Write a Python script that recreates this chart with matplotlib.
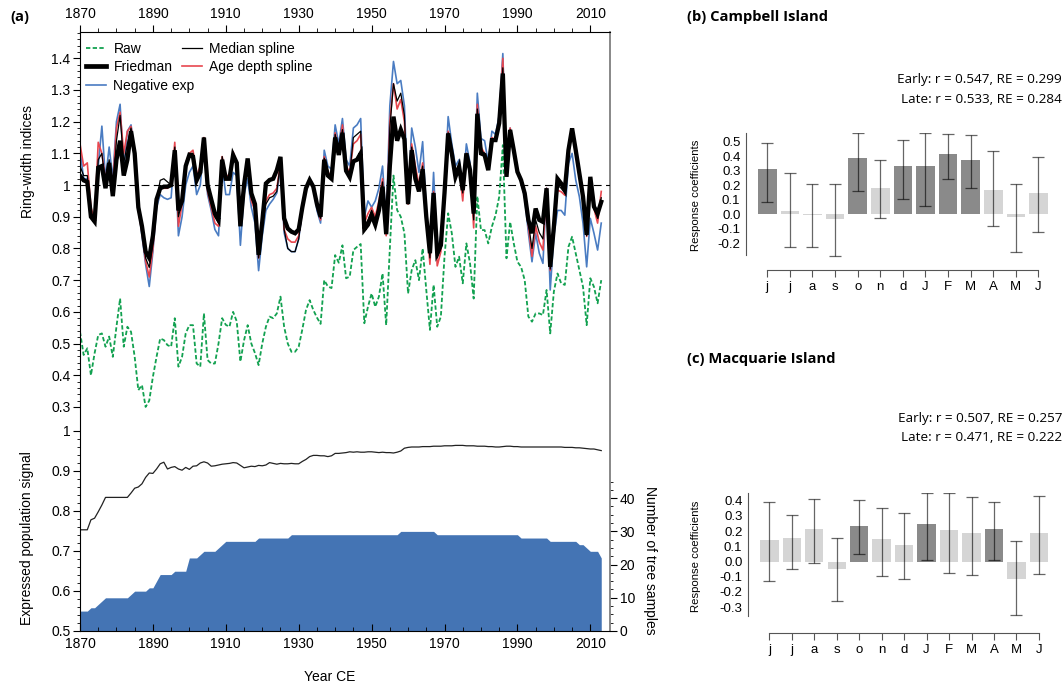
import numpy as np
import matplotlib
matplotlib.use("Agg")
import matplotlib.pyplot as plt
from matplotlib.lines import Line2D
from matplotlib.ticker import FixedLocator

plt.rcParams['font.family'] = ['Liberation Sans', 'DejaVu Sans']

# ---- panel (a) data, 1870-2013 ----
years = np.arange(1870, 2014)

friedman = [
    1.03, 1.015, 1.01, 0.90, 0.885, 1.055, 1.06, 0.99, 1.07, 0.965,
    1.08, 1.14, 1.03, 1.08, 1.17, 1.10, 0.93, 0.87, 0.79, 0.77,
    0.84, 0.955, 0.99, 0.995, 0.995, 1.0, 1.11, 0.92, 0.95, 1.06,
    1.095, 1.09, 1.015, 1.04, 1.15, 1.0, 0.955, 0.91, 0.89, 1.08,
    1.02, 1.02, 1.095, 1.07, 0.87, 1.0, 1.084, 0.974, 0.94, 0.78,
    0.884, 1.005, 1.016, 1.02, 1.047, 1.089, 0.895, 0.863, 0.853, 0.848,
    0.86, 0.93, 0.99, 1.016, 0.995, 0.94, 0.90, 1.08, 1.03, 1.02,
    1.15, 1.095, 1.165, 1.045, 1.025, 1.075, 1.08, 1.10, 0.86, 0.875,
    0.905, 0.875, 0.92, 0.995, 0.845, 1.06, 1.216, 1.14, 1.175, 1.145,
    0.94, 1.11, 1.02, 0.98, 1.05, 0.90, 0.785, 0.975, 0.785, 0.81,
    0.975, 1.163, 1.10, 1.026, 1.058, 0.984, 1.10, 1.047, 0.91, 1.225,
    1.10, 1.095, 1.047, 1.142, 1.142, 1.195, 1.352, 1.026, 1.174, 1.11,
    1.042, 1.016, 0.974, 0.89, 0.848, 0.926, 0.89, 0.884, 0.99, 0.742,
    0.868, 1.02, 1.005, 0.984, 1.11, 1.179, 1.11, 1.037, 0.963, 0.843,
    1.026, 0.932, 0.91, 0.947,
]

median_spline = [
    1.06, 1.03, 1.03, 0.91, 0.89, 1.08, 1.10, 1.0, 1.08, 0.98,
    1.14, 1.22, 1.07, 1.13, 1.18, 1.10, 0.92, 0.86, 0.77, 0.74,
    0.82, 0.95, 1.015, 1.02, 1.01, 1.0, 1.12, 0.90, 0.95, 1.07,
    1.10, 1.10, 1.02, 1.05, 1.15, 0.99, 0.95, 0.90, 0.88, 1.09,
    1.02, 1.02, 1.10, 1.07, 0.88, 1.0, 1.08, 0.96, 0.93, 0.77,
    0.87, 0.94, 0.96, 0.965, 0.98, 1.075, 0.86, 0.80, 0.79, 0.79,
    0.83, 0.92, 0.99, 1.015, 0.995, 0.935, 0.895, 1.085, 1.035, 1.025,
    1.16, 1.10, 1.175, 1.055, 1.035, 1.15, 1.16, 1.17, 0.87, 0.89,
    0.92, 0.89, 0.94, 1.01, 0.85, 1.18, 1.32, 1.265, 1.29, 1.22,
    0.94, 1.12, 1.04, 0.99, 1.06, 0.90, 0.77, 0.975, 0.77, 0.80,
    0.975, 1.165, 1.10, 1.025, 1.06, 0.975, 1.10, 1.05, 0.89, 1.24,
    1.11, 1.10, 1.05, 1.145, 1.14, 1.20, 1.37, 1.03, 1.175, 1.11,
    1.043, 1.013, 0.97, 0.88, 0.80, 0.89, 0.85, 0.83, 0.99, 0.735,
    0.865, 1.0, 0.99, 0.975, 1.105, 1.17, 1.105, 1.03, 0.958, 0.84,
    1.02, 0.93, 0.895, 0.96,
]

age_depth = [
    1.13, 1.06, 1.07, 0.93, 0.89, 1.135, 1.10, 1.02, 1.07, 1.00,
    1.18, 1.23, 1.10, 1.17, 1.185, 1.10, 0.92, 0.85, 0.76, 0.71,
    0.80, 0.94, 0.99, 0.99, 0.99, 1.0, 1.135, 0.87, 0.94, 1.07,
    1.10, 1.11, 1.03, 1.06, 1.15, 0.98, 0.93, 0.88, 0.87, 1.09,
    1.03, 1.03, 1.105, 1.07, 0.89, 1.0, 1.08, 0.95, 0.92, 0.77,
    0.87, 0.95, 0.97, 0.975, 0.99, 1.07, 0.86, 0.83, 0.82, 0.82,
    0.84, 0.92, 0.99, 1.015, 0.99, 0.93, 0.89, 1.09, 1.04, 1.03,
    1.165, 1.11, 1.19, 1.06, 1.04, 1.13, 1.14, 1.16, 0.88, 0.91,
    0.93, 0.90, 0.95, 1.02, 0.84, 1.20, 1.32, 1.24, 1.27, 1.20,
    0.94, 1.13, 1.06, 1.0, 1.07, 0.90, 0.75, 0.98, 0.745, 0.79,
    0.97, 1.17, 1.11, 1.02, 1.06, 0.95, 1.10, 1.06, 0.865, 1.255,
    1.12, 1.10, 1.05, 1.15, 1.14, 1.21, 1.40, 1.03, 1.18, 1.11,
    1.045, 1.01, 0.965, 0.87, 0.775, 0.87, 0.82, 0.795, 0.99, 0.73,
    0.86, 0.984, 0.979, 0.968, 1.10, 1.168, 1.10, 1.026, 0.953, 0.838,
    1.016, 0.926, 0.88, 0.98,
]

negative_exp = [
    1.11, 1.02, 1.02, 0.92, 0.89, 1.06, 1.186, 1.02, 1.12, 1.02,
    1.20, 1.255, 1.05, 1.17, 1.19, 1.10, 0.93, 0.84, 0.75, 0.68,
    0.79, 0.93, 0.97, 0.96, 0.955, 0.96, 1.12, 0.84, 0.90, 1.0,
    1.04, 1.06, 0.97, 1.0, 1.13, 0.97, 0.92, 0.86, 0.84, 1.06,
    0.97, 0.97, 1.04, 1.03, 0.81, 0.97, 1.02, 0.93, 0.88, 0.73,
    0.84, 0.92, 0.94, 0.955, 0.975, 1.06, 0.85, 0.80, 0.79, 0.79,
    0.83, 0.92, 0.99, 1.02, 1.0, 0.92, 0.88, 1.11, 1.06, 1.05,
    1.19, 1.13, 1.21, 1.08, 1.06, 1.18, 1.19, 1.21, 0.90, 0.95,
    0.93, 0.95, 0.99, 1.06, 0.88, 1.25, 1.39, 1.32, 1.33, 1.25,
    0.95, 1.18, 1.12, 1.04, 1.137, 0.92, 0.79, 1.04, 0.79, 0.84,
    0.98, 1.216, 1.13, 1.06, 1.08, 0.99, 1.13, 1.07, 0.93, 1.29,
    1.147, 1.14, 1.07, 1.17, 1.16, 1.22, 1.415, 1.03, 1.18, 1.11,
    1.05, 1.01, 0.96, 0.85, 0.758, 0.848, 0.785, 0.753, 0.99, 0.669,
    0.84, 0.92, 0.92, 0.905, 1.068, 1.10, 1.016, 0.963, 0.879, 0.742,
    0.895, 0.848, 0.795, 0.88,
]

raw = [
    0.537, 0.464, 0.485, 0.40, 0.469, 0.527, 0.532, 0.49, 0.522, 0.458,
    0.553, 0.642, 0.49, 0.553, 0.537, 0.458, 0.353, 0.369, 0.30, 0.32,
    0.395, 0.458, 0.516, 0.511, 0.495, 0.49, 0.58, 0.427, 0.458, 0.532,
    0.558, 0.558, 0.437, 0.427, 0.595, 0.448, 0.437, 0.437, 0.50, 0.58,
    0.559, 0.553, 0.60, 0.57, 0.443, 0.51, 0.558, 0.50, 0.47, 0.432,
    0.50, 0.553, 0.585, 0.58, 0.595, 0.648, 0.553, 0.50, 0.474, 0.474,
    0.49, 0.545, 0.606, 0.637, 0.606, 0.582, 0.562, 0.70, 0.68, 0.675,
    0.779, 0.755, 0.81, 0.706, 0.711, 0.795, 0.805, 0.814, 0.564, 0.616,
    0.658, 0.616, 0.648, 0.721, 0.558, 0.80, 1.03, 0.921, 0.90, 0.848,
    0.658, 0.732, 0.763, 0.70, 0.80, 0.669, 0.543, 0.685, 0.553, 0.585,
    0.774, 0.911, 0.848, 0.742, 0.774, 0.69, 0.816, 0.753, 0.642, 0.965,
    0.858, 0.858, 0.816, 0.869, 0.905, 0.963, 1.126, 0.769, 0.884, 0.816,
    0.758, 0.742, 0.70, 0.585, 0.569, 0.595, 0.595, 0.59, 0.669, 0.532,
    0.664, 0.721, 0.69, 0.685, 0.805, 0.837, 0.784, 0.732, 0.679, 0.558,
    0.706, 0.679, 0.627, 0.70,
]

eps = [
    0.753, 0.753, 0.753, 0.778, 0.782, 0.798, 0.815, 0.834, 0.834, 0.834,
    0.834, 0.834, 0.834, 0.834, 0.845, 0.857, 0.860, 0.868, 0.884, 0.895,
    0.894, 0.905, 0.918, 0.922, 0.905, 0.909, 0.911, 0.905, 0.902, 0.909,
    0.904, 0.912, 0.913, 0.920, 0.923, 0.920, 0.912, 0.913, 0.915, 0.917,
    0.918, 0.919, 0.921, 0.920, 0.914, 0.908, 0.910, 0.912, 0.911, 0.914,
    0.913, 0.915, 0.921, 0.919, 0.917, 0.919, 0.918, 0.918, 0.919, 0.918,
    0.918, 0.924, 0.929, 0.936, 0.939, 0.939, 0.938, 0.938, 0.936, 0.938,
    0.944, 0.944, 0.945, 0.946, 0.948, 0.947, 0.948, 0.947, 0.947, 0.948,
    0.948, 0.947, 0.946, 0.947, 0.946, 0.946, 0.945, 0.947, 0.950, 0.957,
    0.959, 0.960, 0.960, 0.960, 0.961, 0.961, 0.961, 0.962, 0.962, 0.962,
    0.963, 0.963, 0.963, 0.964, 0.964, 0.964, 0.963, 0.963, 0.963, 0.962,
    0.962, 0.962, 0.961, 0.961, 0.960, 0.960, 0.961, 0.962, 0.962, 0.961,
    0.961, 0.960, 0.960, 0.960, 0.960, 0.960, 0.960, 0.960, 0.960, 0.960,
    0.960, 0.960, 0.960, 0.959, 0.959, 0.959, 0.958, 0.958, 0.957, 0.956,
    0.955, 0.955, 0.953, 0.951,
]

samples = [
    6, 6, 6, 7, 7, 8, 9, 10, 10, 10,
    10, 10, 10, 10, 11, 12, 12, 12, 12, 13,
    13, 15, 17, 17, 17, 17, 18, 18, 18, 18,
    22, 22, 22, 23, 24, 24, 24, 24, 25, 26,
    27, 27, 27, 27, 27, 27, 27, 27, 27, 28,
    28, 28, 28, 28, 28, 28, 28, 28, 29, 29,
    29, 29, 29, 29, 29, 29, 29, 29, 29, 29,
    29, 29, 29, 29, 29, 29, 29, 29, 29, 29,
    29, 29, 29, 29, 29, 29, 29, 29, 30, 30,
    30, 30, 30, 30, 30, 30, 30, 30, 29, 29,
    29, 29, 29, 29, 29, 29, 29, 29, 29, 29,
    29, 29, 29, 29, 29, 29, 29, 29, 29, 29,
    29, 28, 28, 28, 28, 28, 28, 28, 28, 27,
    27, 27, 27, 27, 27, 27, 27, 26, 26, 25,
    24, 24, 24, 22,
]

rw_ticks = [0.3, 0.4, 0.5, 0.6, 0.7, 0.8, 0.9, 1.0, 1.1, 1.2, 1.3, 1.4]
rw_ticklabels = ['0.3', '0.4', '0.5', '0.6', '0.7', '0.8', '0.9', '1',
                 '1.1', '1.2', '1.3', '1.4']
eps_ticks = [0.5, 0.6, 0.7, 0.8, 0.9, 1.0]
eps_ticklabels = ['0.5', '0.6', '0.7', '0.8', '0.9', '1']
year_ticks = [1870, 1890, 1910, 1930, 1950, 1970, 1990, 2010]

# ---- panels (b) and (c): response coefficients ----
months = ['j', 'j', 'a', 's', 'o', 'n', 'd', 'J', 'F', 'M', 'A', 'M', 'J']

camp_coef = [0.31, 0.025, -0.005, -0.035, 0.385, 0.18, 0.335, 0.335, 0.415, 0.372, 0.165, -0.015, 0.145]
camp_lo = [0.088, -0.227, -0.225, -0.284, 0.16, -0.028, 0.105, 0.06, 0.24, 0.18, -0.08, -0.26, -0.124]
camp_hi = [0.489, 0.287, 0.206, 0.206, 0.56, 0.375, 0.512, 0.563, 0.556, 0.544, 0.433, 0.206, 0.395]
camp_sig = [True, False, False, False, True, False, True, True, True, True, False, False, False]

macq_coef = [0.143, 0.154, 0.213, -0.048, 0.235, 0.147, 0.112, 0.248, 0.207, 0.187, 0.211, -0.114, 0.187]
macq_lo = [-0.13, -0.046, -0.011, -0.259, 0.048, -0.097, -0.114, 0.009, -0.077, -0.086, 0.011, -0.354, -0.084]
macq_hi = [0.389, 0.303, 0.41, 0.154, 0.407, 0.35, 0.32, 0.45, 0.448, 0.426, 0.39, 0.134, 0.433]
macq_sig = [False, False, False, False, True, False, False, True, False, False, True, False, False]

W, H = 1064, 685


def px_rect(left, top, right, bottom):
    """Figure-fraction rect from pixel edges (origin top-left)."""
    return [left / W, (H - bottom) / H, (right - left) / W, (bottom - top) / H]


def bar_panel(fig, rect, coef, lo, hi, sig, ylim, spine_lim, yticks,
              title, stats, title_y, stats_y, ylab_y, xlim):
    ax = fig.add_axes(rect)
    x = np.arange(len(months))
    coef = np.asarray(coef)
    colors = ['#8a8a8a' if s else '#d5d5d5' for s in sig]
    ax.bar(x, coef, width=0.82, color=colors, linewidth=0, zorder=1)
    ax.errorbar(x, coef, yerr=[coef - np.asarray(lo), np.asarray(hi) - coef],
                fmt='none', ecolor=(0, 0, 0, 0.6), elinewidth=0.9,
                capsize=4.3, capthick=0.9, zorder=2)
    ax.set_xlim(*xlim)
    ax.set_ylim(*ylim)
    for s in ['top', 'right']:
        ax.spines[s].set_visible(False)
    ax.spines['left'].set_bounds(*spine_lim)
    ax.spines['bottom'].set_bounds(0, len(months) - 1)
    for s in ['left', 'bottom']:
        ax.spines[s].set_color('#555555')
        ax.spines[s].set_linewidth(0.8)
    ax.set_xticks(x)
    ax.set_xticklabels(months)
    ax.set_yticks(yticks)
    ax.set_yticklabels([f'{v:.1f}' for v in yticks])
    ax.tick_params(axis='x', direction='out', length=5, width=0.8,
                   color='#555555', labelsize=9.5, pad=3)
    ax.tick_params(axis='y', length=0, labelsize=9.5, pad=4)
    fig.text(687 / W, 1 - title_y / H, title, fontsize=10.6, fontweight='bold',
             family='Open Sans', va='center', ha='left')
    for k, line in enumerate(stats):
        fig.text(1062 / W, 1 - (stats_y + 19.5 * k) / H, line, fontsize=9.7,
                 family='Open Sans', va='center', ha='right')
    fig.text(696 / W, 1 - ylab_y / H, 'Response coefficients', fontsize=8.2,
             rotation=90, va='center', ha='center')
    return ax


fig = plt.figure(figsize=(W / 100, H / 100), dpi=100)
rect_a = px_rect(80, 32, 610, 631)
xlim_a = (1870, 2015.4)

# sample depth (right axis), drawn first so it sits at the back
ax_n = fig.add_axes(rect_a)
ax_n.fill_between(years, 0, samples, color='#4474b4', linewidth=0)
ax_n.set_xlim(*xlim_a)
ax_n.set_ylim(0, 180.4)
ax_n.set_xticks([])
ax_n.yaxis.tick_right()
ax_n.set_yticks([0, 10, 20, 30, 40])
ax_n.yaxis.set_minor_locator(FixedLocator(np.arange(0, 45.1, 2.5)))
ax_n.tick_params(axis='y', which='major', direction='out', length=5, labelsize=10, pad=2)
ax_n.tick_params(axis='y', which='minor', direction='out', length=2.5)
for s in ['left', 'top', 'bottom']:
    ax_n.spines[s].set_visible(False)
ax_n.spines['right'].set_color('#7f7f7f')
ax_n.spines['right'].set_linewidth(1.3)

# expressed population signal
ax_eps = fig.add_axes(rect_a)
ax_eps.patch.set_visible(False)
ax_eps.plot(years, eps, color='#222222', lw=0.9)
ax_eps.set_xlim(*xlim_a)
ax_eps.set_ylim(0.5, 1.9975)
ax_eps.set_yticks(eps_ticks)
ax_eps.set_yticklabels(eps_ticklabels)
ax_eps.yaxis.set_minor_locator(FixedLocator(np.arange(0.5, 1.001, 0.02)))
ax_eps.set_xticks(year_ticks)
ax_eps.xaxis.set_minor_locator(FixedLocator(np.arange(1870, 2015, 5)))
ax_eps.tick_params(axis='x', which='major', direction='in', length=5, labelsize=10, pad=4)
ax_eps.tick_params(axis='x', which='minor', direction='in', length=3)
ax_eps.tick_params(axis='y', which='major', direction='out', length=5, labelsize=10, pad=2)
ax_eps.tick_params(axis='y', which='minor', direction='out', length=2.5)
for s in ax_eps.spines.values():
    s.set_visible(False)

# ring-width chronologies
ax = fig.add_axes(rect_a)
ax.patch.set_visible(False)
ax.axhline(1.0, color='black', lw=0.8, dashes=(7, 4))
ax.plot(years, raw, color='#12a150', lw=1.3, dashes=(2.4, 1.3))
ax.plot(years, negative_exp, color='#4a7cc2', lw=1.2)
ax.plot(years, age_depth, color='#e8474f', lw=1.2)
ax.plot(years, median_spline, color='black', lw=0.9)
ax.plot(years, friedman, color='black', lw=3.1, solid_joinstyle='miter')
ax.set_xlim(*xlim_a)
ax.set_ylim(-0.407, 1.483)
ax.set_yticks(rw_ticks)
ax.set_yticklabels(rw_ticklabels)
ax.yaxis.set_minor_locator(FixedLocator(np.arange(0.3, 1.481, 0.02)))
ax.xaxis.tick_top()
ax.set_xticks(year_ticks)
ax.xaxis.set_minor_locator(FixedLocator(np.arange(1870, 2015, 5)))
ax.tick_params(axis='x', which='major', direction='out', length=5, labelsize=10, pad=3)
ax.tick_params(axis='x', which='minor', direction='out', length=3)
ax.tick_params(axis='y', which='major', direction='out', length=5, labelsize=10, pad=2)
ax.tick_params(axis='y', which='minor', direction='out', length=2.5)
ax.spines['right'].set_visible(False)

leg1 = ax.legend(
    handles=[Line2D([], [], color='#12a150', lw=1.3, dashes=(2.4, 1.3)),
             Line2D([], [], color='black', lw=3.4),
             Line2D([], [], color='#4a7cc2', lw=1.2)],
    labels=['Raw', 'Friedman', 'Negative exp'],
    loc='upper left', bbox_to_anchor=(0.012, 0.983), frameon=False,
    borderpad=0, borderaxespad=0, handlelength=1.45, handletextpad=0.5,
    labelspacing=0.3, fontsize=10)
ax.add_artist(leg1)
ax.legend(
    handles=[Line2D([], [], color='black', lw=0.9),
             Line2D([], [], color='#e8474f', lw=1.2)],
    labels=['Median spline', 'Age depth spline'],
    loc='upper left', bbox_to_anchor=(0.193, 0.983), frameon=False,
    borderpad=0, borderaxespad=0, handlelength=1.45, handletextpad=0.5,
    labelspacing=0.3, fontsize=10)

fig.text(20 / W, 1 - 17 / H, '(a)', fontsize=10.6, fontweight='bold',
         family='Open Sans', va='center', ha='center')
fig.text(28 / W, 1 - 162 / H, 'Ring-width indices', fontsize=10,
         rotation=90, va='center', ha='center')
fig.text(27 / W, 1 - 538 / H, 'Expressed population signal', fontsize=10,
         rotation=90, va='center', ha='center')
fig.text(650 / W, 1 - 560 / H, 'Number of tree samples', fontsize=10,
         rotation=270, va='center', ha='center')
fig.text(330 / W, 1 - 677 / H, 'Year CE', fontsize=10, va='center', ha='center')

bar_panel(fig, px_rect(746, 133, 1052, 270), camp_coef, camp_lo, camp_hi, camp_sig,
          ylim=(-0.383, 0.56), spine_lim=(-0.28, 0.56),
          yticks=[-0.2, -0.1, 0.0, 0.1, 0.2, 0.3, 0.4, 0.5],
          title='(b) Campbell Island',
          stats=['Early: r = 0.547, RE = 0.299', 'Late: r = 0.533, RE = 0.284'],
          title_y=17, stats_y=80, ylab_y=195, xlim=(-0.94, 12.6))

bar_panel(fig, px_rect(748, 493, 1052, 633), macq_coef, macq_lo, macq_hi, macq_sig,
          ylim=(-0.47, 0.451), spine_lim=(-0.358, 0.451),
          yticks=[-0.3, -0.2, -0.1, 0.0, 0.1, 0.2, 0.3, 0.4],
          title='(c) Macquarie Island',
          stats=['Early: r = 0.507, RE = 0.257', 'Late: r = 0.471, RE = 0.222'],
          title_y=359, stats_y=418, ylab_y=556, xlim=(-0.95, 12.58))

fig.savefig('out.png', dpi=100)
